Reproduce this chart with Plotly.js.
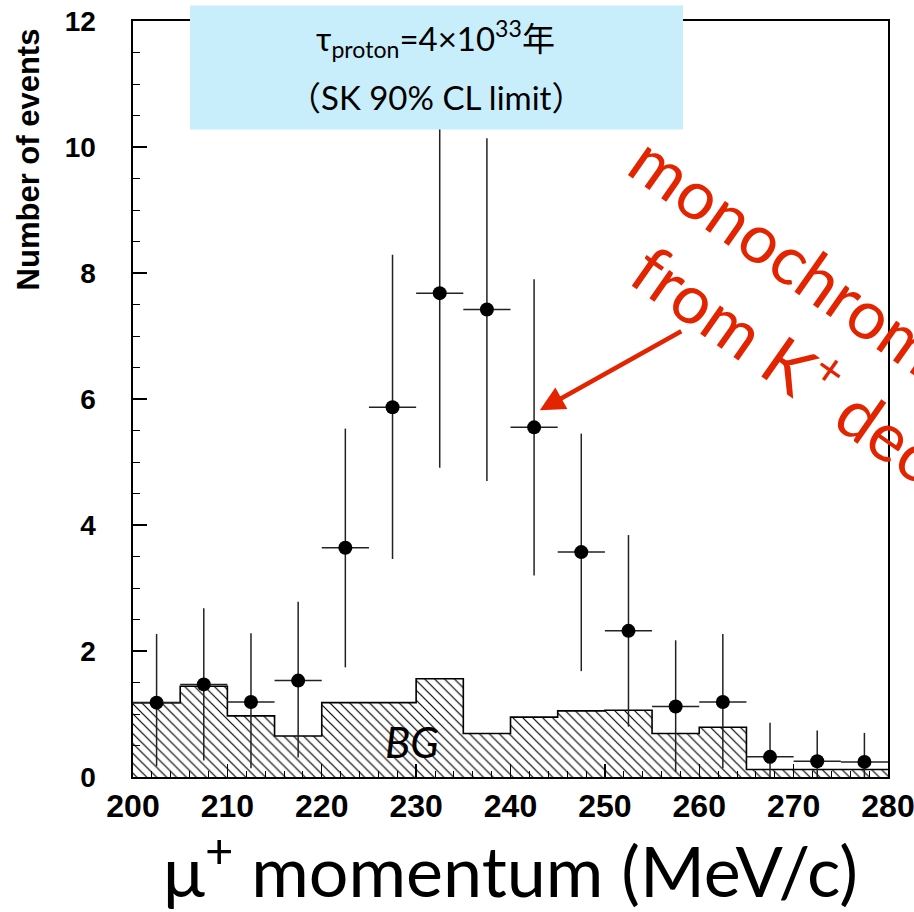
<!DOCTYPE html>
<html>
<head>
<meta charset="utf-8">
<script src="https://cdn.plot.ly/plotly-3.0.1.min.js"></script>
<style>html,body{margin:0;padding:0;background:#fff;} #chart{width:914px;height:912px;}</style>
</head>
<body>
<div id="chart"></div>
<script>
// Bin centers (MeV/c), 5 MeV/c wide bins from 200 to 280
const binCenters = [202.5,207.5,212.5,217.5,222.5,227.5,232.5,237.5,242.5,247.5,252.5,257.5,262.5,267.5,272.5,277.5];
const binEdges = [200,205,210,215,220,225,230,235,240,245,250,255,260,265,270,275,280];
// Simulated signal + background counts (points)
const counts   = [1.18,1.47,1.19,1.53,3.64,5.87,7.68,7.42,5.55,3.57,2.32,1.12,1.19,0.32,0.25,0.24];
const errTop   = [2.27,2.68,2.28,2.78,5.53,8.29,10.9,10.14,7.90,5.45,3.84,2.17,2.27,0.86,0.74,0.70];
const errBottom= [0.17,0.26,0.14,0.31,1.74,3.46,4.91,4.70,3.20,1.68,0.80,0.08,0.14,0.00,0.00,0.00];
// Background histogram
const background = [1.18,1.44,0.97,0.65,1.18,1.18,1.56,0.69,0.95,1.05,1.06,0.69,0.79,0.12,0.12,0.12];
const binWidth = 5;

const errPlus = counts.map((v,i)=>errTop[i]-v);
const errMinus = counts.map((v,i)=>v-errBottom[i]);
const stepY = background.concat([background[background.length-1]]);

const traces = [
  {
    type:'bar', x:binCenters, y:background, width:binWidth,
    marker:{color:'white', line:{width:0},
      pattern:{shape:'\\', fgcolor:'#000', bgcolor:'#fff', size:7, solidity:0.17}},
    hoverinfo:'skip', showlegend:false
  },
  {
    type:'scatter', mode:'lines', x:binEdges, y:stepY,
    line:{shape:'hv', color:'#000', width:1.6},
    showlegend:false, hoverinfo:'skip'
  },
  {
    type:'scatter', mode:'markers', x:binCenters, y:counts,
    marker:{color:'#000', size:14},
    error_y:{type:'data', symmetric:false, array:errPlus, arrayminus:errMinus, width:0, thickness:1.5, color:'#222'},
    error_x:{type:'constant', value:binWidth/2, width:0, thickness:1.5, color:'#222'},
    showlegend:false
  }
];

const tickFont = {family:'Liberation Sans, Arial, sans-serif', color:'#000', weight:'bold'};

const layout = {
  width:914, height:912,
  margin:{l:133, r:26, t:21, b:135},
  paper_bgcolor:'#fff', plot_bgcolor:'#fff',
  bargap:0,
  showlegend:false,
  xaxis:{
    range:[200,280], dtick:10, tick0:200,
    ticks:'inside', ticklen:13, tickwidth:1.3, tickcolor:'#000',
    minor:{dtick:2, ticks:'inside', ticklen:6, tickwidth:1, tickcolor:'#000'},
    showgrid:false, zeroline:false,
    showline:true, linecolor:'#000', linewidth:1.6, mirror:true,
    tickfont:Object.assign({size:32}, tickFont),
    ticklabeloverflow:'allow',
    title:{text:'μ<sup>+</sup> momentum (MeV/c)', standoff:0,
      font:{family:'Lato, "Open Sans", sans-serif', size:70, color:'#000'}}
  },
  yaxis:{
    range:[0,12], dtick:2, tick0:0,
    ticks:'inside', ticklen:14, tickwidth:1.3, tickcolor:'#000',
    minor:{dtick:0.5, ticks:'inside', ticklen:7, tickwidth:1, tickcolor:'#000'},
    showgrid:false, zeroline:false,
    showline:true, linecolor:'#000', linewidth:1.6, mirror:true,
    tickfont:Object.assign({size:28}, tickFont),
    ticklabelstandoff:30
  },
  shapes:[
    {type:'rect', xref:'paper', yref:'paper', x0:0.0755, x1:0.7285, y0:0.8566, y1:1.0206,
      fillcolor:'#C9EEFB', line:{width:0}, layer:'above'}
  ],
  annotations:[
    {xref:'paper', yref:'paper', x:0.401, y:0.9775, xanchor:'center', yanchor:'middle', showarrow:false,
      text:'τ<sub>proton</sub>=4×10<sup>33</sup>年',
      font:{family:'Lato, "Noto Sans CJK JP", sans-serif', size:33, color:'#000'}},
    {xref:'paper', yref:'paper', x:0.401, y:0.9, xanchor:'center', yanchor:'middle', showarrow:false,
      text:'（SK 90% CL limit）',
      font:{family:'Lato, "Noto Sans CJK JP", sans-serif', size:33, color:'#000'}},
    {xref:'paper', yref:'paper', x:-0.139, y:0.817, xanchor:'center', yanchor:'middle', showarrow:false,
      textangle:-90, text:'Number of events',
      font:{family:'Liberation Sans, Arial, sans-serif', size:31, color:'#000', weight:'bold'}},
    {xref:'x', yref:'y', x:229.6, y:0.55, xanchor:'center', yanchor:'middle', showarrow:false,
      text:'<i>BG</i>', font:{family:'Lato, sans-serif', size:42, color:'#000'}},
    {xref:'paper', yref:'paper', x:0.94, y:0.575, xanchor:'center', yanchor:'middle', showarrow:false,
      textangle:35, align:'center',
      text:'monochromatic μ<sup>+</sup><br>from K<sup>+</sup> decay',
      font:{family:'Lato, sans-serif', size:68, color:'#E32400'}},
    {xref:'x', yref:'y', x:243.1, y:5.82, showarrow:true, text:'',
      ax:143, ay:-80, arrowcolor:'#E32400', arrowwidth:4.5, arrowhead:2, arrowsize:1.1}
  ]
};

Plotly.newPlot('chart', traces, layout, {displayModeBar:false, staticPlot:true});
</script>
</body>
</html>
